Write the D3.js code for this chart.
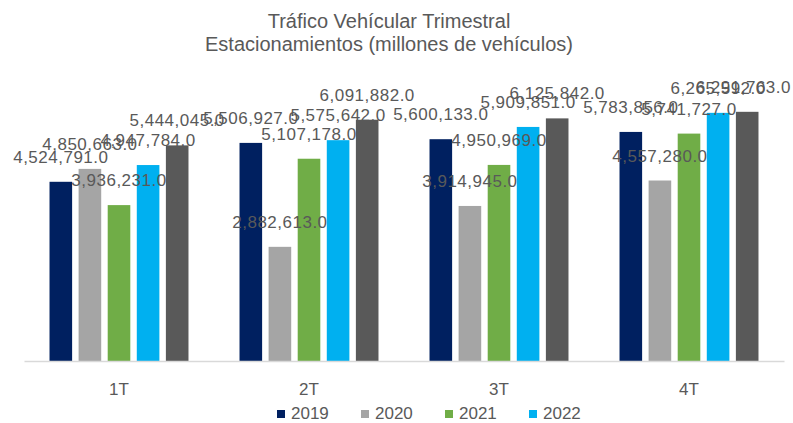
<!DOCTYPE html>
<html>
<head>
<meta charset="utf-8">
<script src="https://cdn.jsdelivr.net/npm/d3@7"></script>
<style>
  body { margin: 0; background: #fff; }
  svg text { font-family: "Liberation Sans", Arial, sans-serif; }
</style>
</head>
<body>
<svg width="793" height="423"></svg>
<script>
// quarters on the x axis
const quarters = ["1T", "2T", "3T", "4T"];
// series (the last one has no legend entry in the original)
const years = ["2019", "2020", "2021", "2022", "2023"];
const legendYears = ["2019", "2020", "2021", "2022"];
const colors = ["#002060", "#A5A5A5", "#70AD47", "#00B0F0", "#595959"];

// values per year, one per quarter
const v2019 = [4524791.0, 5506927.0, 5600133.0, 5783856.0];
const v2020 = [4850663.0, 2882613.0, 3914945.0, 4557280.0];
const v2021 = [3936231.0, 5107178.0, 4950969.0, 5741727.0];
const v2022 = [4947784.0, 5575642.0, 5909851.0, 6265592.0];
const v2023 = [5444045.0, 6091882.0, 6125842.0, 6291763.0];
const allValues = [v2019, v2020, v2021, v2022, v2023];

let svg = d3.select("svg");
let svgW = +svg.attr("width");
let margin = {top: 60, right: 9, bottom: 62, left: 24};
let w = svgW - margin.left - margin.right;
let h = +svg.attr("height") - margin.top - margin.bottom;
let g = svg.append("g").attr("transform", `translate(${margin.left},${margin.top})`);

let x0 = d3.scaleBand().domain(quarters).range([0, w]);
let x1 = d3.scaleBand().domain(years).range([0, x0.bandwidth()]).paddingInner(0.223).paddingOuter(0.877);
let y = d3.scaleLinear().domain([0, 7600000]).range([h, 0]);

// title
svg.append("text").attr("x", 389).attr("y", 28).attr("text-anchor", "middle")
  .attr("font-size", 20).attr("fill", "#595959").text("Tráfico Vehícular Trimestral");
svg.append("text").attr("x", 389).attr("y", 51).attr("text-anchor", "middle")
  .attr("font-size", 20).attr("fill", "#595959").text("Estacionamientos (millones de vehículos)");

let data = [];
quarters.forEach((q, qi) => {
  years.forEach((yr, si) => {
    data.push({q: q, year: yr, si: si, value: allValues[si][qi]});
  });
});

g.selectAll("rect.bar")
  .data(data)
  .enter()
  .append("rect")
  .attr("class", "bar")
  .attr("x", d => x0(d.q) + x1(d.year))
  .attr("y", d => y(d.value))
  .attr("width", x1.bandwidth())
  .attr("height", d => h - y(d.value))
  .attr("fill", d => colors[d.si]);

// x axis
let xAxis = g.append("g").attr("transform", `translate(0,${h})`)
  .call(d3.axisBottom(x0).tickSize(0).tickPadding(22));
xAxis.select(".domain").attr("stroke", "#D9D9D9").attr("stroke-width", 1.5);
xAxis.selectAll("text").attr("font-size", 17).attr("fill", "#595959")
  .style("font-family", "Liberation Sans, Arial, sans-serif");

// value labels
g.selectAll("text.lbl")
  .data(data)
  .enter()
  .append("text")
  .attr("class", "lbl")
  .attr("x", d => x0(d.q) + x1(d.year) + x1.bandwidth() / 2)
  .attr("y", d => y(d.value) - 19)
  .attr("text-anchor", "middle")
  .attr("font-size", 17)
  .attr("letter-spacing", 0.5)
  .attr("fill", "#595959")
  .text(d => d3.format(",.1f")(d.value));

// keep labels inside the right edge
g.selectAll("text.lbl").each(function() {
  let bb = this.getBBox();
  let overflow = margin.left + bb.x + bb.width - (svgW - 2);
  if (overflow > 0) d3.select(this).attr("x", +d3.select(this).attr("x") - overflow);
});

// legend
let leg = svg.append("g").attr("transform", "translate(277,410)");
legendYears.forEach((yr, i) => {
  let item = leg.append("g").attr("transform", `translate(${i * 84},0)`);
  item.append("rect").attr("width", 8).attr("height", 8).attr("fill", colors[i]);
  item.append("text").attr("x", 14).attr("y", 8.5).attr("font-size", 17)
    .attr("fill", "#595959").text(yr);
});
</script>
</body>
</html>
